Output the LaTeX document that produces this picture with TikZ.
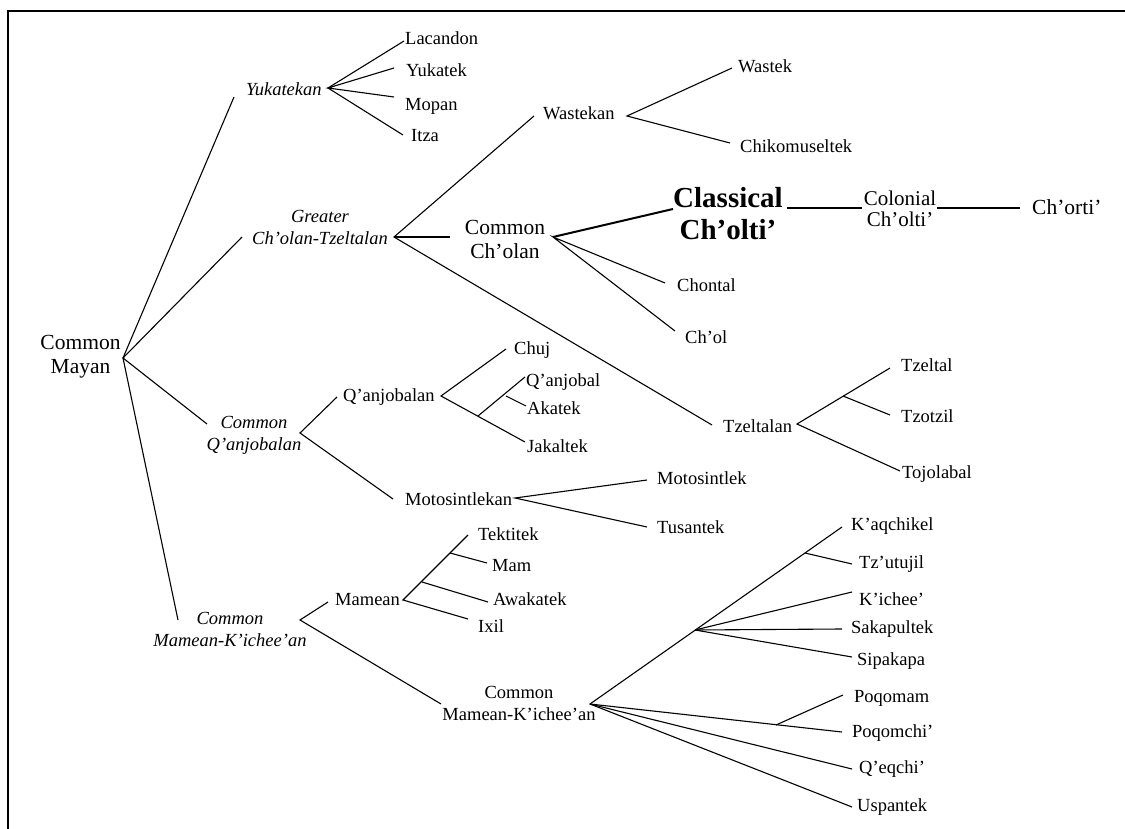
\documentclass[tikz,border=0pt]{standalone}
\usepackage{fontspec}
\setmainfont{Liberation Serif}
\begin{document}
\begin{tikzpicture}[x=1pt,y=-1pt,
  ln/.style={line width=1.1pt},
  thk/.style={line width=2pt},
  lbl/.style={inner sep=0pt, text height=12.2pt, text depth=0pt, anchor=west, font=\fontsize{18.5}{22}\selectfont},
  mlbl/.style={inner sep=0pt, text height=14.2pt, text depth=0pt, anchor=west, font=\fontsize{21.5}{24}\selectfont},
  two/.style={inner sep=0pt, align=center, anchor=center},
  sm/.style={font=\fontsize{18.5}{22}\selectfont},
  smi/.style={font=\fontsize{18.5}{22}\selectfont\itshape},
  md/.style={font=\fontsize{21.5}{24}\selectfont},
]
\useasboundingbox (0,0) rectangle (1125,829);
% frame
\draw[line width=2pt] (1125,11) -- (8,11) -- (8,829);

% ---------- labels ----------
\node[two,md] (cm) at (80.5,357) {Common\\Mayan};
\node[lbl,font=\fontsize{18.5}{22}\selectfont\itshape] (yuk) at (246,89) {Yukatekan};
\node[lbl] (lac) at (405,38) {Lacandon};
\node[lbl] (yut) at (406,70) {Yukatek};
\node[lbl] (mop) at (405,104) {Mopan};
\node[lbl] (itz) at (411,135) {Itza};
\node[two,smi] (gct) at (320,227) {Greater\\Ch’olan-Tzeltalan};
\node[lbl] (wkn) at (543,113) {Wastekan};
\node[lbl] (wst) at (738,66) {Wastek};
\node[lbl] (chk) at (740,146) {Chikomuseltek};
\node[two,md] (cch) at (505,239) {Common\\Ch’olan};
\node[two,font=\fontsize{29}{32}\selectfont\bfseries] (cla) at (728,214) {Classical\\Ch’olti’};
\node[two,font=\fontsize{21}{21}\selectfont] (col) at (900,209) {Colonial\\Ch’olti’};
\node[mlbl] (cho) at (1032,207) {Ch’orti’};
\node[lbl] (chn) at (677,285) {Chontal};
\node[lbl] (chl) at (685,337) {Ch’ol};
\node[lbl] (tzn) at (723,426) {Tzeltalan};
\node[lbl] (tzl) at (901,365) {Tzeltal};
\node[lbl] (tzo) at (901,416) {Tzotzil};
\node[lbl] (toj) at (902,472) {Tojolabal};
\node[two,smi] (cqa) at (254,435) {Common\\Q’anjobalan};
\node[lbl] (qan) at (343,395) {Q’anjobalan};
\node[lbl] (chu) at (514,348) {Chuj};
\node[lbl] (qjb) at (526,380) {Q’anjobal};
\node[lbl] (aka) at (527,408) {Akatek};
\node[lbl] (jak) at (527,446) {Jakaltek};
\node[lbl] (mtn) at (405,499) {Motosintlekan};
\node[lbl] (mtk) at (657,478) {Motosintlek};
\node[lbl] (tus) at (657,527) {Tusantek};
\node[two,smi] (cmki) at (230,629) {Common\\Mamean-K’ichee’an};
\node[lbl] (mmn) at (335,599) {Mamean};
\node[lbl] (tek) at (478,534) {Tektitek};
\node[lbl] (mam) at (492,565) {Mam};
\node[lbl] (awa) at (493,599) {Awakatek};
\node[lbl] (ixi) at (478,626) {Ixil};
\node[two,sm] (cmk) at (519,703.5) {Common\\Mamean-K’ichee’an};
\node[lbl] (kaq) at (851,524) {K’aqchikel};
\node[lbl] (tzu) at (859,562) {Tz’utujil};
\node[lbl] (kic) at (859,599) {K’ichee’};
\node[lbl] (sak) at (851,627) {Sakapultek};
\node[lbl] (sip) at (857,659) {Sipakapa};
\node[lbl] (pqm) at (854,696) {Poqomam};
\node[lbl] (pqc) at (852,731) {Poqomchi’};
\node[lbl] (qeq) at (859,767) {Q’eqchi’};
\node[lbl] (usp) at (857,805) {Uspantek};

% ---------- fork and end points ----------
\coordinate (fCM) at (123,358);
\coordinate (eYuk) at (234,97);
\coordinate (eGct) at (242,237);
\coordinate (eCqa) at (207,424);
\coordinate (eCmki) at (178,620);
\coordinate (fYuk) at (328,88);
\coordinate (eLac) at (404,41);
\coordinate (eYut) at (394,68);
\coordinate (eMop) at (394,97);
\coordinate (eItz) at (403,135);
\coordinate (fGct) at (394,237);
\coordinate (eWkn) at (534,116);
\coordinate (eCch) at (450,237);
\coordinate (eTzn) at (712,425);
\coordinate (fWkn) at (627,116);
\coordinate (eWst) at (732,68);
\coordinate (eChk) at (730,143);
\coordinate (fCch) at (553,237);
\coordinate (eCla) at (673,209);
\coordinate (eChn) at (665,283);
\coordinate (eChl) at (675,331);
\coordinate (sCla) at (787,208);
\coordinate (eCol) at (862,208);
\coordinate (sCol) at (937,208);
\coordinate (eCho) at (1020,208);
\coordinate (fTzn) at (797,424);
\coordinate (eTzl) at (890,368);
\coordinate (fTzo) at (843,396);
\coordinate (eTzo) at (890,415);
\coordinate (eToj) at (900,471);
\coordinate (fCqa) at (300,433);
\coordinate (eQan) at (337,397);
\coordinate (eMtn) at (393,499);
\coordinate (fQan) at (441,396);
\coordinate (eChu) at (506,349);
\coordinate (eJak) at (525,442);
\coordinate (fQjb) at (478,416);
\coordinate (eQjb) at (525,377);
\coordinate (fAka) at (506,396);
\coordinate (eAka) at (526,406);
\coordinate (fMtn) at (515,498);
\coordinate (eMtk) at (647,480);
\coordinate (eTus) at (647,527);
\coordinate (fCmki) at (300,620);
\coordinate (eMmn) at (328,602);
\coordinate (eCmk) at (441,704);
\coordinate (fMmn) at (403,600);
\coordinate (eTek) at (468,535);
\coordinate (fMam) at (450,553);
\coordinate (eMam) at (487,563);
\coordinate (fAwa) at (422,582);
\coordinate (eAwa) at (488,602);
\coordinate (eIxi) at (468,619);
\coordinate (fCmk) at (590,704);
\coordinate (eKaq) at (842,527);
\coordinate (fTzu) at (805,553);
\coordinate (eTzu) at (852,564);
\coordinate (fKic) at (695,630);
\coordinate (eKic) at (852,592);
\coordinate (eSak) at (842,629);
\coordinate (eSip) at (852,657);
\coordinate (ePqc) at (842,732);
\coordinate (fPqm) at (776,725);
\coordinate (ePqm) at (843,695);
\coordinate (eQeq) at (852,769);
\coordinate (eUsp) at (852,807);

% ---------- connectors ----------
\draw[ln] (eYuk) -- (fCM) -- (eCmki);
\draw[ln] (eGct) -- (fCM) -- (eCqa);
\draw[ln] (eLac) -- (fYuk) -- (eItz);
\draw[ln] (eYut) -- (fYuk) -- (eMop);
\draw[ln] (eWkn) -- (fGct) -- (eTzn);
\draw[ln] (fGct) -- (eCch);
\draw[ln] (eWst) -- (fWkn) -- (eChk);
\draw[thk] (fCch) -- (eCla);
\draw[ln] (eChn) -- (fCch) -- (eChl);
\draw[ln] (sCla) -- (eCol);
\draw[ln] (sCol) -- (eCho);
\draw[ln] (eTzl) -- (fTzn) -- (eToj);
\draw[ln] (fTzo) -- (eTzo);
\draw[ln] (eQan) -- (fCqa) -- (eMtn);
\draw[ln] (eChu) -- (fQan) -- (eJak);
\draw[ln] (fQjb) -- (eQjb);
\draw[ln] (fAka) -- (eAka);
\draw[ln] (eMtk) -- (fMtn) -- (eTus);
\draw[ln] (eMmn) -- (fCmki) -- (eCmk);
\draw[ln] (eTek) -- (fMmn) -- (eIxi);
\draw[ln] (fMam) -- (eMam);
\draw[ln] (fAwa) -- (eAwa);
\draw[ln] (eKaq) -- (fCmk) -- (eUsp);
\draw[ln] (fCmk) -- (ePqc);
\draw[ln] (fCmk) -- (eQeq);
\draw[ln] (fTzu) -- (eTzu);
\draw[ln] (fKic) -- (eKic);
\draw[ln] (fKic) -- (eSak);
\draw[ln] (fKic) -- (eSip);
\draw[ln] (fPqm) -- (ePqm);
\end{tikzpicture}
\end{document}
